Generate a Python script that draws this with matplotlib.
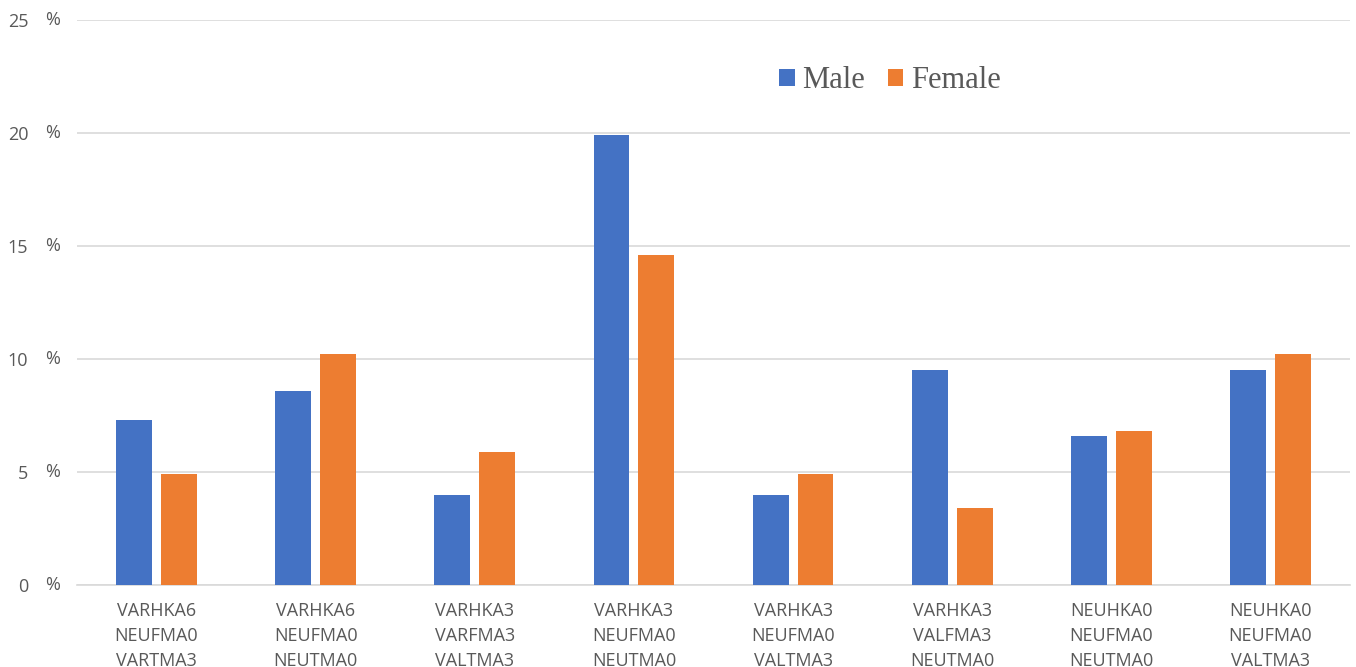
import matplotlib
matplotlib.use("Agg")
import matplotlib.pyplot as plt
import matplotlib.transforms as mtransforms
import numpy as np

categories = [
    "VARHKA6\nNEUFMA0\nVARTMA3",
    "VARHKA6\nNEUFMA0\nNEUTMA0",
    "VARHKA3\nVARFMA3\nVALTMA3",
    "VARHKA3\nNEUFMA0\nNEUTMA0",
    "VARHKA3\nNEUFMA0\nVALTMA3",
    "VARHKA3\nVALFMA3\nNEUTMA0",
    "NEUHKA0\nNEUFMA0\nNEUTMA0",
    "NEUHKA0\nNEUFMA0\nVALTMA3",
]
male = [7.3, 8.6, 4.0, 19.9, 4.0, 9.5, 6.6, 9.5]
female = [4.9, 10.2, 5.9, 14.6, 4.9, 3.4, 6.8, 10.2]
yticks = [0, 5, 10, 15, 20, 25]

blue = "#4472C4"
orange = "#ED7D31"
text_gray = "#595959"
grid_gray = "#D9D9D9"

fig = plt.figure(figsize=(13.56, 6.67), dpi=100)
ax = fig.add_axes([77 / 1356, 0.1229, 1273 / 1356, 0.8471])

x = np.arange(len(categories))
w = 0.226
off = 0.141
ax.bar(x - off, male, width=w, color=blue, label="Male", zorder=3)
ax.bar(x + off, female, width=w, color=orange, label="Female", zorder=3)

ax.set_xlim(-0.5, len(categories) - 0.5)
ax.set_ylim(0, 25)
ax.set_yticks(yticks)
ax.set_yticklabels([str(v) for v in yticks])
ax.yaxis.grid(True, color=grid_gray, linewidth=1.2, zorder=0)
ax.set_axisbelow(True)
for s in ["top", "right", "left"]:
    ax.spines[s].set_visible(False)
ax.spines["bottom"].set_color(grid_gray)
ax.spines["bottom"].set_linewidth(1.2)

ax.tick_params(axis="y", length=0, pad=35, labelsize=13, labelcolor=text_gray)
ax.tick_params(axis="x", length=0, pad=12, labelsize=13, labelcolor=text_gray)
for lbl in ax.get_yticklabels():
    lbl.set_fontfamily("Open Sans")
    lbl.set_horizontalalignment("right")

ax.set_xticks(x)
ax.set_xticklabels(categories, fontfamily="Open Sans", linespacing=1.5)

# percent signs beside each y tick value
trans = mtransforms.blended_transform_factory(fig.transFigure, ax.transData)
for v in yticks:
    ax.text(45 / 1356, v, "%", transform=trans, ha="left", va="center",
            fontsize=13, color=text_gray, fontfamily="Open Sans")

leg = ax.legend(loc="center", bbox_to_anchor=(890 / 1356, 1 - 81 / 667),
                bbox_transform=fig.transFigure, ncol=2, frameon=False,
                prop={"family": "Liberation Serif", "size": 22},
                handlelength=0.5, handleheight=0.5, handletextpad=0.25,
                columnspacing=0.75, labelcolor=text_gray)

fig.savefig("out.png", dpi=100)
